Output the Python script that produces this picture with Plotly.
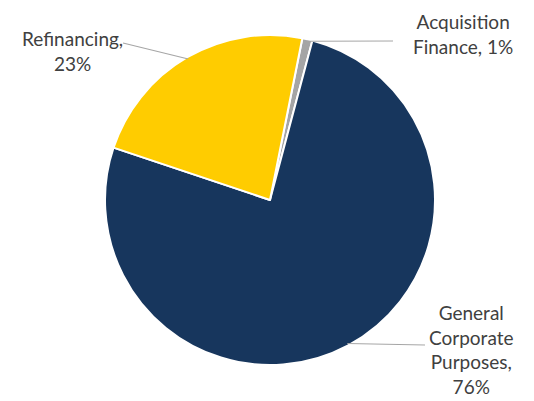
import math
import plotly.graph_objects as go

categories = ["Acquisition Finance", "General Corporate Purposes", "Refinancing"]
values = [1, 76, 23]
label_texts = ["Acquisition<br>Finance, 1%", "General<br>Corporate<br>Purposes,<br>76%", "Refinancing,<br>23%"]
colors = ["#A5A5A5", "#17365D", "#FFCC00"]

W, H = 534, 401
CX, CY, R = 270, 200, 165
ROT = 11.3

fig = go.Figure(go.Pie(
    labels=categories, values=values, sort=False, direction="clockwise",
    rotation=ROT, textinfo="none", hoverinfo="label+percent",
    marker=dict(colors=colors, line=dict(color="white", width=2)),
    domain=dict(x=[(CX - R) / W, (CX + R) / W], y=[1 - (CY + R) / H, 1 - (CY - R) / H]),
    showlegend=False,
))

# label positions (text anchors, px) and leader end points
text_pos = [(463, 34), (471, 349), (72, 51)]
line_end = [(393, 41), (425, 345), (123, 43)]

total = sum(values)
cum = 0
shapes, annotations = [], []
for i, v in enumerate(values):
    mid = ROT + (cum + v / 2) / total * 360
    cum += v
    a = math.radians(mid)
    sx = CX + (R - 2) * math.sin(a)
    sy = CY - (R - 2) * math.cos(a)
    ex, ey = line_end[i]
    shapes.append(dict(type="line", xref="paper", yref="paper",
                       x0=sx / W, y0=1 - sy / H, x1=ex / W, y1=1 - ey / H,
                       line=dict(color="#A6A6A6", width=1.2)))
    tx, ty = text_pos[i]
    annotations.append(dict(xref="paper", yref="paper", x=tx / W, y=1 - ty / H,
                            text=label_texts[i], showarrow=False, xanchor="center",
                            yanchor="middle", align="center",
                            font=dict(family="Lato", size=19, color="#404040")))

fig.update_layout(width=W, height=H, margin=dict(l=0, r=0, t=0, b=0),
                  paper_bgcolor="white", plot_bgcolor="white",
                  shapes=shapes, annotations=annotations)
fig.write_html("out.html")
